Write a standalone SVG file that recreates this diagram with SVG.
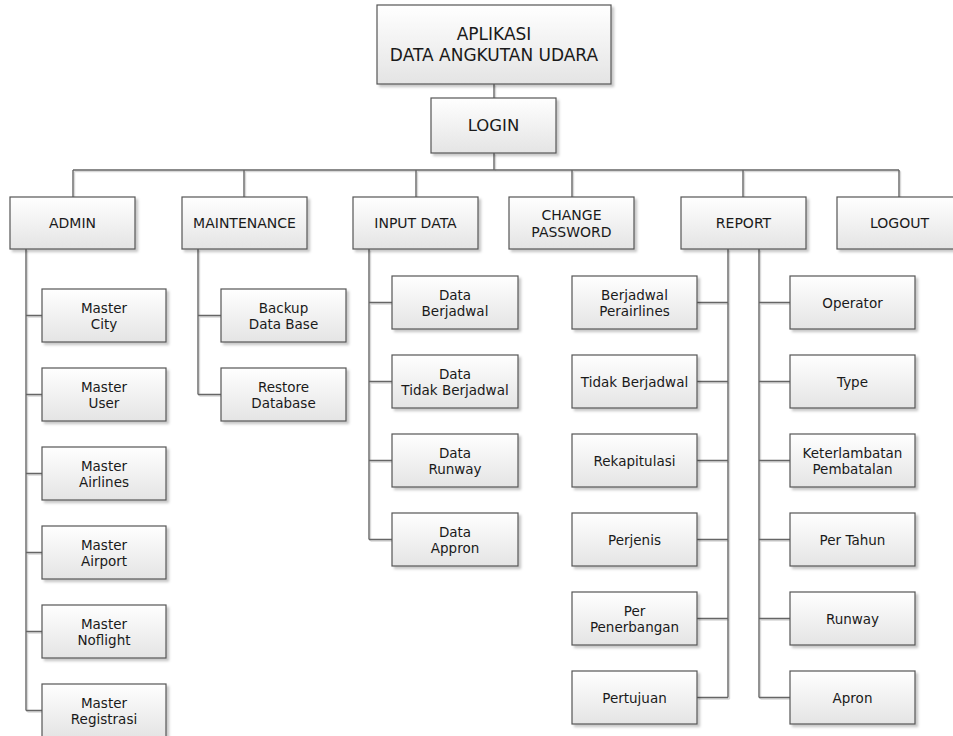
<svg xmlns="http://www.w3.org/2000/svg" width="953" height="736" viewBox="0 0 953 736">
<defs>
<linearGradient id="g" x1="0" y1="0" x2="0" y2="1">
<stop offset="0" stop-color="#ffffff"/>
<stop offset="1" stop-color="#e4e4e4"/>
</linearGradient>
<filter id="sh" x="-10%" y="-10%" width="130%" height="140%">
<feDropShadow dx="2.5" dy="2.5" stdDeviation="1.2" flood-color="#000" flood-opacity="0.22"/>
</filter>
</defs>
<style>
rect{fill:url(#g);stroke:#555;stroke-width:1.2;filter:url(#sh)}
text{font-family:"DejaVu Sans","Open Sans","Liberation Sans",sans-serif;font-size:13.5px;fill:#1a1a1a;text-anchor:middle}
.big{font-size:17px}
.lg{font-size:16.5px}
.l1{font-size:14px}
#connectors path{fill:none;stroke:#666;stroke-width:1.4}
#shadowlines path{fill:none;stroke:#d8d8d8;stroke-width:1.4}
</style>
<g id="shadowlines" transform="translate(1.5,1.5)">
<path d="M494 84V98M494 153V170M73 170H899M73 170V197M244 170V197M416 170V197M572 170V197M743 170V197M899 170V197"/>
<path d="M26 249V710.5M26 315.5H42M26 394.5H42M26 473.5H42M26 552.5H42M26 631.5H42M26 710.5H42"/>
<path d="M198 249V394.5M198 315.5H221M198 394.5H221"/>
<path d="M369 249V539.5M369 302.5H392M369 381.5H392M369 460.5H392M369 539.5H392"/>
<path d="M728 249V697.5M697 302.5H728M697 381.5H728M697 460.5H728M697 539.5H728M697 618.5H728M697 697.5H728"/>
<path d="M759 249V697.5M759 302.5H790M759 381.5H790M759 460.5H790M759 539.5H790M759 618.5H790M759 697.5H790"/>
</g>
<g id="connectors">
<path d="M494 84V98M494 153V170M73 170H899M73 170V197M244 170V197M416 170V197M572 170V197M743 170V197M899 170V197"/>
<path d="M26 249V710.5M26 315.5H42M26 394.5H42M26 473.5H42M26 552.5H42M26 631.5H42M26 710.5H42"/>
<path d="M198 249V394.5M198 315.5H221M198 394.5H221"/>
<path d="M369 249V539.5M369 302.5H392M369 381.5H392M369 460.5H392M369 539.5H392"/>
<path d="M728 249V697.5M697 302.5H728M697 381.5H728M697 460.5H728M697 539.5H728M697 618.5H728M697 697.5H728"/>
<path d="M759 249V697.5M759 302.5H790M759 381.5H790M759 460.5H790M759 539.5H790M759 618.5H790M759 697.5H790"/>
</g>
<g id="app"><rect x="377" y="5" width="234" height="79"/><text class="big" x="494" y="40">APLIKASI</text><text class="big" x="494" y="61">DATA ANGKUTAN UDARA</text></g>
<g id="login"><rect x="431" y="98" width="125" height="55"/><text class="lg" x="493.5" y="131">LOGIN</text></g>
<g id="admin"><rect x="10" y="197" width="125" height="52"/><text class="l1" x="72.5" y="228">ADMIN</text></g>
<g id="maintenance"><rect x="182" y="197" width="125" height="52"/><text class="l1" x="244.5" y="228">MAINTENANCE</text></g>
<g id="inputdata"><rect x="353" y="197" width="125" height="52"/><text class="l1" x="415.5" y="228">INPUT DATA</text></g>
<g id="changepassword"><rect x="509" y="197" width="125" height="52"/><text class="l1" x="571.5" y="219.5">CHANGE</text><text class="l1" x="571.5" y="236.5">PASSWORD</text></g>
<g id="report"><rect x="681" y="197" width="125" height="52"/><text class="l1" x="743.5" y="228">REPORT</text></g>
<g id="logout"><rect x="837" y="197" width="125" height="52"/><text class="l1" x="899.5" y="228">LOGOUT</text></g>
<g id="mastercity"><rect x="42" y="289" width="124" height="53"/><text x="104" y="312.5">Master</text><text x="104" y="328.5">City</text></g>
<g id="masteruser"><rect x="42" y="368" width="124" height="53"/><text x="104" y="391.5">Master</text><text x="104" y="407.5">User</text></g>
<g id="masterairlines"><rect x="42" y="447" width="124" height="53"/><text x="104" y="470.5">Master</text><text x="104" y="486.5">Airlines</text></g>
<g id="masterairport"><rect x="42" y="526" width="124" height="53"/><text x="104" y="549.5">Master</text><text x="104" y="565.5">Airport</text></g>
<g id="masternoflight"><rect x="42" y="605" width="124" height="53"/><text x="104" y="628.5">Master</text><text x="104" y="644.5">Noflight</text></g>
<g id="masterregistrasi"><rect x="42" y="684" width="124" height="53"/><text x="104" y="707.5">Master</text><text x="104" y="723.5">Registrasi</text></g>
<g id="backup"><rect x="221" y="289" width="125" height="53"/><text x="283.5" y="312.5">Backup</text><text x="283.5" y="328.5">Data Base</text></g>
<g id="restore"><rect x="221" y="368" width="125" height="53"/><text x="283.5" y="391.5">Restore</text><text x="283.5" y="407.5">Database</text></g>
<g id="databerjadwal"><rect x="392" y="276" width="126" height="53"/><text x="455" y="299.5">Data</text><text x="455" y="315.5">Berjadwal</text></g>
<g id="datatidak"><rect x="392" y="355" width="126" height="53"/><text x="455" y="378.5">Data</text><text x="455" y="394.5">Tidak Berjadwal</text></g>
<g id="datarunway"><rect x="392" y="434" width="126" height="53"/><text x="455" y="457.5">Data</text><text x="455" y="473.5">Runway</text></g>
<g id="dataappron"><rect x="392" y="513" width="126" height="53"/><text x="455" y="536.5">Data</text><text x="455" y="552.5">Appron</text></g>
<g id="berjadwalperairlines"><rect x="572" y="276" width="125" height="53"/><text x="634.5" y="299.5">Berjadwal</text><text x="634.5" y="315.5">Perairlines</text></g>
<g id="tidakberjadwal"><rect x="572" y="355" width="125" height="53"/><text x="634.5" y="386.5">Tidak Berjadwal</text></g>
<g id="rekapitulasi"><rect x="572" y="434" width="125" height="53"/><text x="634.5" y="465.5">Rekapitulasi</text></g>
<g id="perjenis"><rect x="572" y="513" width="125" height="53"/><text x="634.5" y="544.5">Perjenis</text></g>
<g id="perpenerbangan"><rect x="572" y="592" width="125" height="53"/><text x="634.5" y="615.5">Per</text><text x="634.5" y="631.5">Penerbangan</text></g>
<g id="pertujuan"><rect x="572" y="671" width="125" height="53"/><text x="634.5" y="702.5">Pertujuan</text></g>
<g id="operator"><rect x="790" y="276" width="125" height="53"/><text x="852.5" y="307.5">Operator</text></g>
<g id="type"><rect x="790" y="355" width="125" height="53"/><text x="852.5" y="386.5">Type</text></g>
<g id="keterlambatan"><rect x="790" y="434" width="125" height="53"/><text x="852.5" y="457.5">Keterlambatan</text><text x="852.5" y="473.5">Pembatalan</text></g>
<g id="pertahun"><rect x="790" y="513" width="125" height="53"/><text x="852.5" y="544.5">Per Tahun</text></g>
<g id="runway"><rect x="790" y="592" width="125" height="53"/><text x="852.5" y="623.5">Runway</text></g>
<g id="apron"><rect x="790" y="671" width="125" height="53"/><text x="852.5" y="702.5">Apron</text></g>
</svg>
